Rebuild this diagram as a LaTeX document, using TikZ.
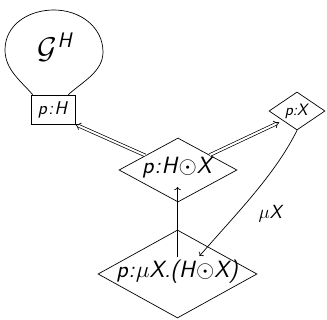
\RequirePackage{fix-cm}
\documentclass[tikz,border=0pt]{standalone}
\usepackage{amsmath}
\usetikzlibrary{shapes.geometric,arrows.meta}
% slanted sans text for the formulas
\newcommand\sv[1]{\textsf{\itshape #1}}
\newcommand\cl{\kern1pt:\kern1pt}
\begin{document}
\begin{tikzpicture}[x=1pt,y=-1pt,line width=0.7pt,
  dia/.style={draw,diamond,inner sep=0pt},
  dbl/.style={double,double distance=2pt,-{Implies[scale=1.25]}},
  arr/.style={->}]
\useasboundingbox (0,0) rectangle (327,320);

% type nodes: fixed-size outlines, labels set on top
\node[draw,minimum width=44pt,minimum height=29pt,inner sep=0pt] (pH) at (53,109.5) {};
\node[font=\fontsize{18.5}{22}\selectfont] (pHt) at (pH) {\sv{p\kern1.5pt:\kern1.5pt H}};
\node[dia,minimum width=118pt,minimum height=64pt] (mid) at (178,170) {};
\node[font=\fontsize{23.5}{28}\selectfont] (midt) at ([yshift=2pt]mid.center) {\sv{p\cl H}$\odot$\sv{X}};
\node[dia,minimum width=56pt,minimum height=38pt] (pX) at (297,111) {};
\node[font=\fontsize{16.5}{19}\selectfont] (pXt) at (pX) {\sv{p:X}};
\node[dia,minimum width=159pt,minimum height=88pt] (bot) at (177.5,274) {};
\node[font=\fontsize{23.5}{28}\selectfont] (bott) at ([yshift=2pt]bot.center) {\sv{p\cl}$\mu$\sv{X.(H}$\odot$\sv{X)}};

% the graph balloon above p:H
\coordinate (bl) at ([xshift=2pt]pH.north west);
\coordinate (br) at ([xshift=-7pt]pH.north east);
\draw (bl) .. controls (22,82) and (5,70) .. (5,50)
           .. controls (5,25) and (28,10) .. (54,10)
           .. controls (80,10) and (103,27) .. (103,52)
           .. controls (103,72) and (82,82) .. (br);
\node[font=\fontsize{30}{36}\selectfont] (G) at (55,47) {$\mathcal{G}^{\sv{H}}$};

% connectors
\draw[dbl] (mid) -- (pH.south east);
\draw[dbl,shorten >=4pt] (mid) -- (pX.south west);
\draw[arr,shorten <=17pt,shorten >=17pt] (bot.center) -- (bot.center |- mid.center);
\coordinate (botin) at ([shift={(22,-18)}]bot.center);
\draw[arr] (pX.south) .. controls (275,175) and (235,215) .. (botin);
\node[font=\fontsize{19}{22}\selectfont] (mu) at (271,214) {$\mu$\sv{X}};
\end{tikzpicture}
\end{document}
